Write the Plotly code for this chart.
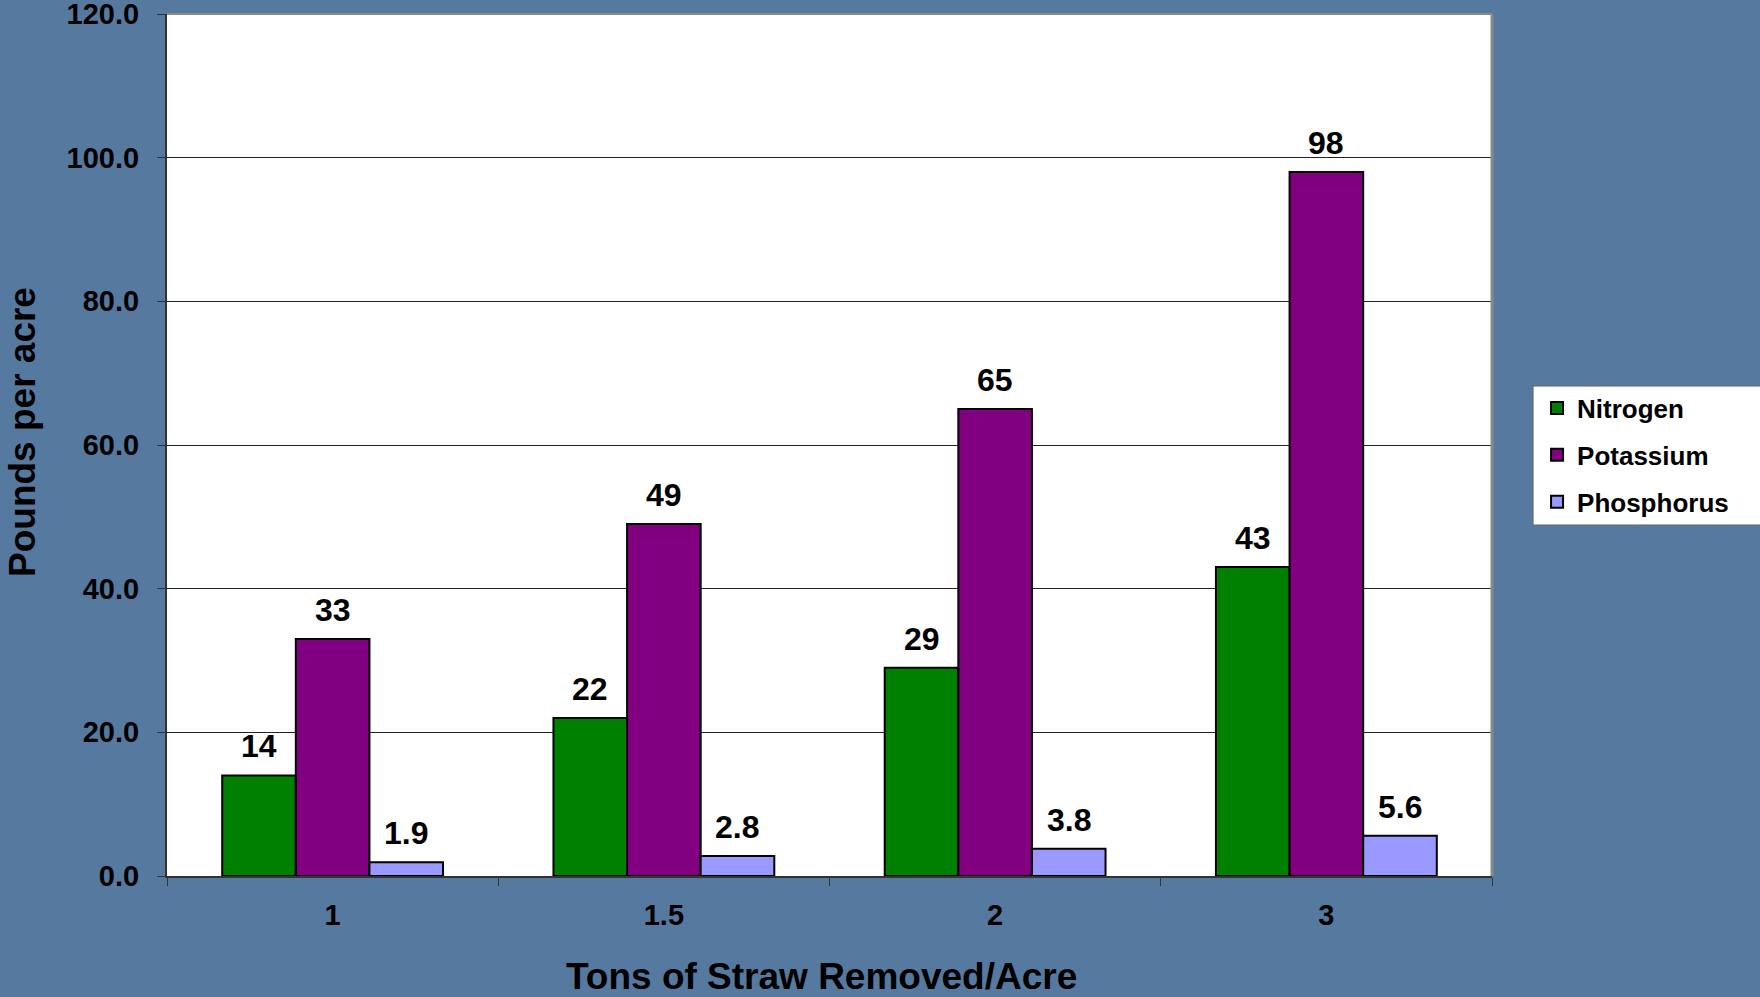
import plotly.graph_objects as go

# Nutrient removal with straw, by tonnage removed
categories = ["1", "1.5", "2", "3"]
nitrogen = [14, 22, 29, 43]
potassium = [33, 49, 65, 98]
phosphorus = [1.9, 2.8, 3.8, 5.6]
label_text = {
    "Nitrogen": ["14", "22", "29", "43"],
    "Potassium": ["33", "49", "65", "98"],
    "Phosphorus": ["1.9", "2.8", "3.8", "5.6"],
}
y_ticks = [0, 20, 40, 60, 80, 100, 120]

series = [
    ("Nitrogen", nitrogen, "#008000"),
    ("Potassium", potassium, "#800080"),
    ("Phosphorus", phosphorus, "#9999FF"),
]

FONT = "Liberation Sans, Arial, sans-serif"
BG = "#56799f"

fig = go.Figure()
for name, vals, color in series:
    fig.add_trace(go.Bar(
        name=name,
        x=categories,
        y=vals,
        legendgroup=name,
        marker=dict(color=color, line=dict(color="black", width=2)),
    ))

# value labels above each bar
bar_w = (1 - 1 / 3) / len(series)
annotations = []
for j, (name, vals, _) in enumerate(series):
    for i, v in enumerate(vals):
        annotations.append(dict(
            x=i + (j - 1) * bar_w, y=v, xref="x", yref="y",
            text=f"<b>{label_text[name][i]}</b>", showarrow=False,
            yanchor="bottom", yshift=9,
            font=dict(family=FONT, size=32, color="black"),
        ))

# axis titles
annotations.append(dict(
    x=0.4936, y=-0.1165, xref="paper", yref="paper",
    text="<b>Tons of Straw Removed/Acre</b>", showarrow=False,
    xanchor="center", yanchor="middle",
    font=dict(family=FONT, size=37, color="black"),
))
annotations.append(dict(
    x=-0.1095, y=0.515, xref="paper", yref="paper",
    text="<b>Pounds per acre</b>", showarrow=False, textangle=-90,
    xanchor="center", yanchor="middle",
    font=dict(family=FONT, size=37, color="black"),
))

fig.update_layout(
    width=1760, height=997,
    paper_bgcolor=BG, plot_bgcolor="white",
    margin=dict(l=167, r=268, t=14, b=121, autoexpand=False),
    barmode="group", bargap=1 / 3, bargroupgap=0,
    font=dict(family=FONT, color="black"),
    annotations=annotations,
    showlegend=True,
    legend=dict(
        x=1.034, xanchor="left", y=0.57, yanchor="top",
        bgcolor="rgba(0,0,0,0)", borderwidth=0,
        font=dict(family=FONT, size=26, color="black", weight="bold"),
        tracegroupgap=10,
        traceorder="grouped",
    ),
    shapes=[
        # legend panel, running off the right edge
        dict(type="rect", xref="paper", yref="paper",
             x0=1.031, x1=1.25, y0=0.4072, y1=0.5684,
             fillcolor="white", line=dict(color="#666666", width=1),
             layer="below"),
        dict(type="line", xref="paper", yref="paper", x0=0, x1=1, y0=1, y1=1,
             line=dict(color="#8a8a8a", width=2)),
        dict(type="line", xref="paper", yref="paper", x0=1, x1=1, y0=0, y1=1,
             line=dict(color="#8a8a8a", width=3)),
    ],
)

fig.update_xaxes(
    type="category",
    showline=True, linecolor="#333333", linewidth=2,
    ticks="outside", tickson="boundaries", ticklen=8, tickcolor="#333333",
    tickfont=dict(family=FONT, size=29, weight="bold"),
    ticklabelstandoff=12,
    showgrid=False,
)
fig.update_yaxes(
    range=[0, 120], tickvals=y_ticks,
    ticktext=[f"{t:.1f}" for t in y_ticks],
    showline=True, linecolor="#333333", linewidth=2,
    ticks="outside", ticklen=8, tickcolor="#333333",
    tickfont=dict(family=FONT, size=29, weight="bold"),
    ticklabelstandoff=12, ticklabeloverflow="allow",
    showgrid=True, gridcolor="#222222", gridwidth=1,
    zeroline=False,
)

fig.write_html("out.html")
